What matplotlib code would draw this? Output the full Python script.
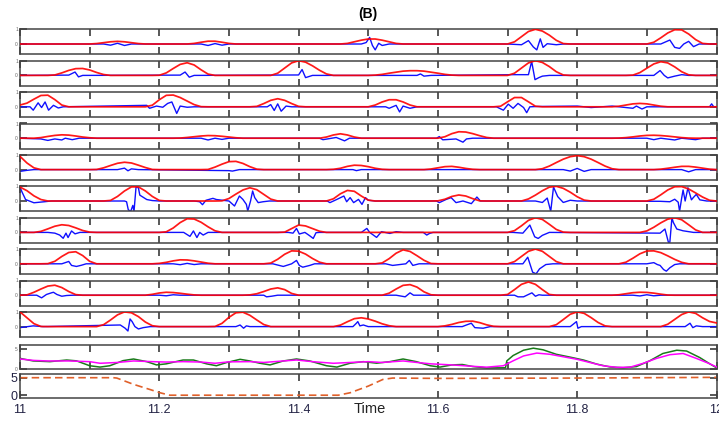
import numpy as np
import matplotlib
matplotlib.use('Agg')
import matplotlib.pyplot as plt

plt.rcParams['font.family'] = ['Liberation Sans', 'DejaVu Sans']

# time axis of envelope samples (s)
t_grid = np.round(11.0 + 0.01 * np.arange(101), 2)

# red envelopes, one per channel, sampled every 0.01 s
env_1 = [0,0,0,0,0,0,0,0,0,0, 0,.03,.09,.15,.18,.15,.09,.03,0,0, 0,0,0,0,0,.04,.12,.19,.19,.12,
         .04,0,0,0,0,0,0,0,0,0, 0,0,0,0,0,0,0,.04,.15,.26, .34,.34,.26,.15,.04,0,0,0,0,0,
         0,0,0,0,0,0,0,0,0,0, 0,.15,.5,.85,1,.88,.6,.25,.03,0, 0,0,0,0,0,0,0,0,0,0,
         0,.12,.42,.75,.97,.96,.68,.3,.04,0, 0]
env_2 = [0,0,0,0,0,.03,.17,.34,.46,.47, .37,.2,.06,0,0,0,0,0,0,0, .01,.17,.47,.75,.86,.71,.38,.09,0,0,
         0,0,0,0,0,0,0,.15,.5,.85, 1,.9,.65,.35,.1,0,0,0,0,0, 0,.02,.07,.15,.22,.29,.32,.32,.29,.22,
         .15,.07,.02,0,0,0,0,0,0,0, 0,.15,.5,.85,1,.88,.6,.25,.03,0, 0,0,0,0,0,0,0,0,.02,.19,
         .49,.78,.93,.85,.58,.25,.04,0,0,0, 0]
env_3 = [.12,.25,.52,.77,.79,.49,.12,0,0,0, 0,0,0,0,0,0,0,0,0,.11, .48,.78,.8,.63,.39,.15,.01,0,0,0,
         0,0,0,0,.03,.22,.44,.55,.44,.22, .03,0,0,0,0,0,0,0,0,0, 0,.12,.33,.48,.48,.33,.12,0,0,0,
         0,0,0,0,0,0,0,0,0,.04, .34,.63,.63,.34,.04,0,0,0,0,0, 0,0,0,0,0,0,.04,.12,.2,.23,
         .2,.12,.04,0,0,0,0,0,0,0, 0]
env_4 = [0,0,0,.04,.12,.19,.23,.21,.15,.08, .03,0,0,0,0,0,0,0,0,0, 0,0,0,.01,.05,.1,.15,.18,.17,.13,
         .08,.03,0,0,0,0,0,0,0,0, 0,0,0,0,.08,.22,.3,.22,.08,0, 0,0,0,0,0,0,0,0,0,0,
         0,.1,.31,.44,.42,.31,.17,.05,0,0, 0,0,0,0,0,0,0,0,0,0, 0,0,0,0,0,0,.01,.04,.09,.15,
         .19,.2,.18,.14,.09,.04,.01,0,0,0, 0]
env_5 = [.9,.45,.12,0,0,0,0,0,0,0, 0,.01,.12,.28,.43,.5,.45,.3,.14,.01, 0,0,0,0,0,0,0,.01,.17,.37,
         .54,.56,.42,.2,.03,0,0,0,0,0, 0,0,0,0,0,.02,.09,.22,.3,.28, .2,.09,.02,0,0,0,0,0,0,.04,
         .12,.2,.22,.16,.08,.02,0,0,0,0, 0,0,0,0,0,.06,.24,.48,.71,.88, .95,.88,.71,.48,.24,.06,0,0,0,0,
         0,0,.03,.09,.16,.22,.22,.17,.1,.03, 0]
env_6 = [.95,.7,.35,.1,0,0,0,0,0,0, 0,0,0,.04,.31,.68,.96,.96,.68,.31, .04,0,0,0,0,0,0,0,0,.01,
         .17,.47,.75,.9,.77,.45,.13,0,0,0, 0,0,0,0,0,.15,.49,.72,.66,.34, .06,0,0,0,0,0,0,0,0,0,
         .01,.12,.31,.41,.34,.16,.01,0,0,0, 0,0,0,.14,.4,.7,.94,1,.86,.6, .29,.06,0,0,0,0,0,0,0,0,
         0,.12,.42,.75,.97,.98,.82,.55,.27,.05, 0]
env_7 = [0,0,0,.07,.24,.42,.52,.47,.31,.13, .02,0,0,0,0,0,0,0,0,0, 0,.04,.3,.67,.93,.91,.69,.38,.11,0,
         0,0,0,0,0,0,0,0,.02,.26, .5,.44,.26,.08,0,0,0,0,0,0, 0,0,0,0,0,0,0,0,0,0,
         0,0,0,0,0,0,0,0,0,0, 0,.12,.45,.82,1,.88,.55,.2,.02,0, 0,0,0,0,0,0,0,0,0,0,
         .1,.35,.65,.9,1,.86,.52,.17,0,0, 0]
env_8 = [0,0,0,0,.01,.17,.5,.77,.82,.56, .17,0,0,0,0,0,0,0,0,0, .03,.1,.2,.27,.26,.2,.12,.04,0,0,
         0,0,0,0,0,0,.05,.31,.65,.88, .86,.66,.36,.11,0,0,0,0,0,0, 0,0,.06,.35,.72,.95,.84,.55,.24,.02,
         0,0,0,0,0,0,0,0,0,0, 0,.15,.5,.85,1,.85,.5,.15,0,0, 0,0,0,0,0,0,0,.11,.38,.68,
         .87,.88,.76,.54,.3,.1,0,0,0,0, 0]
env_9 = [0,.02,.2,.42,.62,.68,.52,.25,.04,0, 0,0,0,0,0,0,0,0,0,.06, .15,.2,.18,.13,.07,.02,0,0,0,0,
         0,0,0,.02,.1,.25,.42,.5,.38,.12, 0,0,0,0,0,0,0,0,0,0, 0,0,0,.14,.42,.67,.72,.55,.23,.03,
         0,0,0,0,0,0,0,0,0,0, .05,.38,.74,.9,.74,.38,.05,0,0,0, 0,0,0,0,0,0,.03,.1,.17,.2,
         .19,.14,.07,.01,0,0,0,0,0,0, 0]
env_10 = [1,.6,.2,.01,0,0,0,0,0,0, 0,0,.13,.45,.8,1,.94,.68,.31,.06, 0,0,0,0,0,0,0,0,.01,.22,
          .63,.94,.98,.77,.45,.14,0,0,0,0, 0,0,0,0,0,0,.1,.33,.54,.6, .52,.37,.19,.06,0,0,0,0,0,0,
          0,.05,.15,.28,.36,.37,.27,.12,.02,0, 0,0,0,0,0,0,0,.13,.48,.84, 1,.9,.61,.28,.05,0,0,0,0,0,
          0,0,0,.16,.49,.82,1,.9,.6,.35, .25]

# blue signals, (time, value) readings
osc_1 = [(11.0,0),(11.12,0),(11.13,-.08),(11.14,.05),(11.15,-.1),(11.16,0),(11.26,0),(11.27,-.1),(11.28,.03),
         (11.29,-.08),(11.30,0),(11.49,0),(11.497,.1),(11.502,.45),(11.506,-.1),(11.51,-.4),(11.515,.05),
         (11.52,-.1),(11.53,0),(11.70,0),(11.72,-.05),(11.730,.23),(11.737,-.2),(11.742,-.4),(11.747,.35),
         (11.751,-.23),(11.757,.02),(11.77,-.05),(11.78,0),(11.92,0),(11.933,.27),(11.940,-.23),(11.947,-.3),
         (11.953,0),(11.960,.18),(11.967,-.18),(11.975,0),(12.0,0)]
osc_2 = [(11.0,0),(11.07,.02),(11.079,.23),(11.084,-.1),(11.09,0),(11.23,.02),(11.237,.23),(11.243,-.12),
         (11.25,0),(11.40,.03),(11.405,.4),(11.41,-.15),(11.42,0),(11.57,0),(11.575,.1),(11.58,-.05),(11.59,0),
         (11.71,.05),(11.73,.05),(11.7346,.95),(11.7394,-.29),(11.745,-.15),(11.75,-.05),(11.76,0),(11.91,0),
         (11.919,.33),(11.925,0),(11.93,-.17),(11.94,-.05),(11.95,.05),(11.96,0),(12.0,0)]
osc_3 = [(11.0,0),(11.0144,0),(11.019,-.23),(11.026,.27),(11.031,-.05),(11.036,.33),(11.041,-.23),(11.048,.1),
         (11.055,-.08),(11.062,0),(11.182,.1),(11.186,-.1),(11.196,.05),(11.205,-.03),(11.212,.23),(11.218,.33),
         (11.225,-.45),(11.23,.05),(11.24,-.03),(11.25,0),(11.355,0),(11.36,.15),(11.365,-.25),(11.37,.2),
         (11.375,-.3),(11.382,.05),(11.39,0),(11.525,0),(11.53,-.1),(11.54,.1),(11.545,-.35),(11.55,.05),
         (11.56,-.1),(11.57,0),(11.684,0),(11.694,-.23),(11.701,.18),(11.708,-.1),(11.715,.23),(11.723,-.05),
         (11.7275,-.4),(11.732,0),(11.742,.02),(11.80,.05),(11.82,-.05),(11.85,.05),(11.88,-.1),(11.885,.05),
         (11.893,-.15),(11.90,0),(11.99,0),(11.993,.2),(11.996,0),(12.0,0)]
osc_4 = [(11.0,0),(11.03,-.05),(11.04,-.15),(11.05,-.05),(11.06,-.12),(11.065,0),(11.075,-.1),(11.085,0),
         (11.26,0),(11.27,-.12),(11.28,0),(11.29,-.08),(11.30,0),(11.43,0),(11.435,-.1),(11.454,.05),
         (11.466,-.18),(11.473,0),(11.598,0),(11.602,.11),(11.607,-.11),(11.626,-.05),(11.636,-.27),
         (11.641,-.05),(11.65,0),(11.90,0),(11.91,-.1),(11.92,0),(11.94,-.12),(11.95,0),(11.97,-.1),(11.98,0),
         (12.0,0)]
osc_5 = [(11.0,-.12),(11.01,-.05),(11.02,0),(11.14,0),(11.15,.1),(11.155,-.08),(11.16,.05),(11.17,0),
         (11.30,-.07),(11.305,-.1),(11.315,0),(11.478,0),(11.483,-.07),(11.49,0),(11.78,0),(11.79,-.1),
         (11.80,.08),(11.81,-.12),(11.82,0),(11.95,0),(11.96,-.15),(11.97,0),(12.0,0)]
osc_6 = [(11.0,.95),(11.003,.6),(11.008,.1),(11.02,-.12),(11.035,-.05),(11.045,0),(11.15,0),(11.153,-.05),
         (11.1555,-.6),(11.159,-.7),(11.162,-.3),(11.1637,-.7),(11.1666,.95),(11.17,.9),(11.172,.4),(11.182,.1),
         (11.19,.03),(11.20,0),(11.25,0),(11.258,-.05),(11.262,-.25),(11.267,.05),(11.277,.18),(11.282,.1),
         (11.30,0),(11.308,-.34),(11.315,.34),(11.320,.11),(11.325,-.23),(11.327,-.68),(11.331,0),(11.334,.68),
         (11.337,.23),(11.342,-.11),(11.349,-.05),(11.358,0),(11.441,0),(11.445,-.11),(11.455,.11),(11.465,.34),
         (11.469,-.05),(11.474,.23),(11.479,-.11),(11.486,.11),(11.491,-.23),(11.496,.23),(11.50,.05),(11.51,0),
         (11.598,0),(11.602,-.11),(11.612,.11),(11.619,.23),(11.626,-.11),(11.636,0),(11.648,-.18),(11.656,.27),
         (11.661,0),(11.74,0),(11.75,-.1),(11.757,.2),(11.762,-.7),(11.766,.95),(11.772,.3),(11.78,-.1),
         (11.79,.05),(11.80,0),(11.919,-.02),(11.933,-.05),(11.940,.12),(11.945,-.08),(11.947,-.7),(11.950,.2),
         (11.952,.75),(11.955,0),(11.959,.9),(11.964,.08),(11.967,.25),(11.971,.45),(11.976,.08),(11.986,0),
         (12.0,0)]
osc_7 = [(11.0,0),(11.04,0),(11.05,-.05),(11.057,-.18),(11.062,-.4),(11.066,-.05),(11.069,-.35),(11.074,.1),
         (11.079,-.1),(11.086,0),(11.235,0),(11.244,-.27),(11.249,.1),(11.254,-.35),(11.258,0),(11.263,-.18),
         (11.27,0),(11.385,0),(11.392,-.05),(11.397,.27),(11.401,-.11),(11.409,0),(11.416,-.23),(11.421,-.41),
         (11.425,-.02),(11.43,0),(11.49,0),(11.498,.27),(11.502,0),(11.512,-.34),(11.519,.05),(11.531,-.07),
         (11.54,.05),(11.55,0),(11.579,0),(11.584,-.18),(11.588,-.07),(11.593,0),(11.708,0),(11.722,-.05),
         (11.732,.5),(11.739,-.3),(11.744,-.41),(11.75,-.2),(11.76,0),(11.919,-.05),(11.926,.23),(11.931,-.68),
         (11.933,-.68),(11.936,1.0),(11.938,.68),(11.943,.23),(11.952,.11),(11.967,0),(12.0,0)]
osc_8 = [(11.0,0),(11.06,0),(11.07,.16),(11.074,-.11),(11.081,-.18),(11.088,-.1),(11.095,0),(11.22,0),
         (11.23,-.06),(11.24,.03),(11.25,-.05),(11.26,0),(11.363,0),(11.378,-.18),(11.39,0),(11.397,.23),
         (11.401,-.11),(11.406,-.23),(11.416,-.11),(11.423,0),(11.525,0),(11.535,-.11),(11.554,0),(11.559,.23),
         (11.564,-.11),(11.573,0),(11.722,0),(11.729,.45),(11.736,-.57),(11.741,-.68),(11.746,-.34),
         (11.755,-.05),(11.765,0),(11.90,0),(11.91,.08),(11.915,-.05),(11.919,-.11),(11.924,-.39),(11.928,-.5),
         (11.933,-.27),(11.94,-.05),(11.947,0),(12.0,0)]
osc_9 = [(11.0,0),(11.024,0),(11.031,-.18),(11.038,.05),(11.045,.16),(11.048,.2),(11.053,.05),(11.06,-.07),
         (11.067,-.02),(11.076,0),(11.20,0),(11.21,-.04),(11.22,.03),(11.23,0),(11.35,0),(11.354,-.11),
         (11.361,-.07),(11.37,0),(11.54,0),(11.553,-.11),(11.56,.16),(11.565,0),(11.71,0),(11.715,-.11),
         (11.723,-.11),(11.73,.05),(11.735,.16),(11.74,-.07),(11.745,.03),(11.75,0),(11.88,0),(11.89,-.05),
         (11.90,.03),(11.91,-.04),(11.92,0),(12.0,0)]
osc_10 = [(11.0,-.07),(11.019,.05),(11.033,0),(11.144,.11),(11.151,-.11),(11.155,-.3),(11.158,.52),(11.161,.34),
          (11.165,0),(11.17,-.16),(11.177,-.07),(11.187,0),(11.31,0),(11.316,.11),(11.321,-.11),(11.325,.05),
          (11.33,0),(11.478,0),(11.483,.23),(11.485,.34),(11.488,.05),(11.493,.11),(11.50,0),(11.635,0),
          (11.641,.11),(11.648,.23),(11.653,-.07),(11.665,-.11),(11.675,0),(11.79,0),(11.799,.34),(11.801,-.11),
          (11.806,0),(11.955,0),(11.962,.23),(11.966,-.07),(11.971,.05),(11.98,0),(12.0,0)]

envelopes = [env_1, env_2, env_3, env_4, env_5, env_6, env_7, env_8, env_9, env_10]
signals = [osc_1, osc_2, osc_3, osc_4, osc_5, osc_6, osc_7, osc_8, osc_9, osc_10]

# summary panel: green and magenta
green_sum = [(11.0,2.6),(11.019,1.97),(11.043,1.8),(11.067,2.2),(11.081,2.0),(11.1,.8),(11.115,.47),(11.129,.8),
             (11.148,2.05),(11.163,2.45),(11.182,1.8),(11.196,1.0),(11.21,1.26),(11.234,2.2),(11.249,2.2),
             (11.268,1.26),(11.282,.8),(11.297,1.6),(11.316,2.37),(11.33,1.97),(11.344,1.42),(11.359,1.0),
             (11.378,1.97),(11.397,2.45),(11.416,1.97),(11.44,.8),(11.455,.47),(11.474,1.42),(11.493,1.8),
             (11.512,1.42),(11.531,1.8),(11.55,2.45),(11.569,1.8),(11.589,.8),(11.603,.47),(11.62,1.0),
             (11.635,1.1),(11.65,.6),(11.67,.25),(11.697,.3),(11.699,2.0),(11.708,3.3),(11.723,4.6),(11.737,5.1),
             (11.751,4.7),(11.77,3.6),(11.79,2.9),(11.809,2.2),(11.828,1.2),(11.847,.5),(11.866,.3),(11.885,.6),
             (11.904,2.0),(11.923,3.8),(11.943,4.6),(11.957,4.4),(11.976,2.8),(11.99,1.3),(12.0,.3)]
magenta_sum = [(11.0,2.45),(11.02,2.1),(11.04,1.97),(11.07,1.97),(11.1,1.8),(11.115,1.4),(11.14,1.6),(11.163,1.97),
               (11.19,1.8),(11.21,1.7),(11.234,1.8),(11.26,1.7),(11.28,1.4),(11.3,1.75),(11.33,1.8),(11.35,1.6),
               (11.378,1.97),(11.397,2.2),(11.42,1.8),(11.45,1.4),(11.474,1.6),(11.5,1.8),(11.52,1.6),(11.55,1.97),
               (11.57,1.6),(11.59,1.26),(11.62,1.0),(11.646,.7),(11.67,.45),(11.694,.8),(11.708,2.0),(11.723,3.2),
               (11.742,3.9),(11.761,3.6),(11.78,3.0),(11.799,2.4),(11.818,1.6),(11.837,.8),(11.857,.4),
               (11.876,.45),(11.895,1.4),(11.914,2.6),(11.933,3.5),(11.952,3.8),(11.971,2.6),(11.99,1.3),(12.0,.5)]

# bottom panel: dashed state trace
state_trace = [(11.0,5.0),(11.134,5.0),(11.139,4.9),(11.163,3.1),(11.187,1.6),(11.201,.7),(11.215,0),(11.457,0),
               (11.474,.7),(11.50,2.6),(11.521,4.5),(11.535,4.9),(11.6,4.8),(11.8,4.9),(12.0,5.1)]

x_labels = ['11', '11.2', '11.4', '11.6', '11.8', '12']
x_label_pos = [11.0, 11.2, 11.4, 11.6, 11.8, 12.0]
minor_pos = [11.0 + 0.1 * k for k in range(11)]

W, H = 719, 422
fig = plt.figure(figsize=(W / 100, H / 100), dpi=100)
FRAME = '#444444'
TICK = '#2a2a2a'


def new_axes(top, height):
    ax = fig.add_axes([20 / W, 1 - (top + height) / H, 696.5 / W, height / H])
    ax.set_xlim(11, 12)
    for s in ax.spines.values():
        s.set_linewidth(1.1)
        s.set_color(FRAME)
    ax.tick_params(direction='in', length=4.7, width=1.1, color=TICK, top=True, right=True,
                   labelbottom=False)
    return ax


for i in range(10):
    ax = new_axes(29.3 + 31.4 * i, 25)
    bt, bv = zip(*signals[i])
    ax.plot(bt, bv, color='#1010ff', lw=1.0, zorder=2)
    ax.plot(t_grid, envelopes[i], color='#ff0000', lw=1.25, alpha=0.9, zorder=3)
    ax.set_ylim(-0.7, 1.0)
    ax.set_yticks([0, 1])
    ax.set_yticklabels(['0', '1'], fontsize=3.5, color='#666666')
    ax.tick_params(axis='y', pad=1.5)
    ax.set_xticks(minor_pos)

# green / magenta panel
ax = new_axes(344.5, 24.5)
gt, gv = zip(*green_sum)
mt, mv = zip(*magenta_sum)
ax.plot(gt, gv, color='#1a7a1a', lw=1.1, zorder=2)
ax.plot(mt, mv, color='#ff00ff', lw=1.1, zorder=3)
ax.set_ylim(0, 6)
ax.set_yticks([0, 5])
ax.set_yticklabels(['0', '5'], fontsize=3.5, color='#666666')
ax.tick_params(axis='y', pad=1.5)
ax.set_xticks(minor_pos)

# dashed state panel
ax = new_axes(373.5, 24.5)
st, sv = zip(*state_trace)
ax.plot(st, sv, color='#e0602a', lw=1.2, dashes=(4.5, 2.5))
ax.set_ylim(-0.8, 6.2)
ax.set_yticks([0, 5])
ax.set_yticklabels(['0', '5'], fontsize=9, color='#222244')
ax.set_xticks(x_label_pos)
ax.set_xticklabels(x_labels, fontsize=9, color='#222244')
ax.tick_params(axis='x', labelbottom=True, pad=4)
ax.tick_params(axis='y', pad=2)

fig.text(370 / W, 1 - 409 / H, 'Time', ha='center', va='center', fontsize=10.5, color='#222222')
fig.text(368 / W, 1 - 14 / H, '(B)', ha='center', va='center', fontsize=10, fontweight='bold')

fig.savefig('out.png', dpi=100)
